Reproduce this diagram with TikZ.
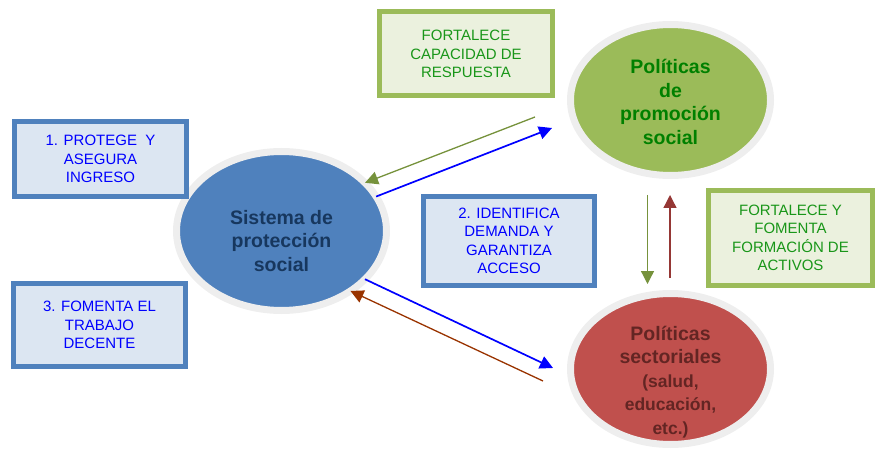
\documentclass[tikz,border=0pt]{standalone}
\usepackage{fontspec}
\setmainfont{Liberation Sans}
\usetikzlibrary{shapes.geometric,arrows.meta}

\definecolor{bluefill}{RGB}{79,129,189}
\definecolor{boxblue}{RGB}{220,230,242}
\definecolor{greenfill}{RGB}{155,187,89}
\definecolor{boxgreen}{RGB}{235,241,222}
\definecolor{redfill}{RGB}{192,80,77}
\definecolor{ringgray}{RGB}{238,238,238}
\definecolor{navytext}{RGB}{23,55,94}
\definecolor{darkgreen}{RGB}{0,128,0}
\definecolor{greentext}{RGB}{25,150,25}
\definecolor{darkred}{RGB}{99,37,35}
\definecolor{arrowgreen}{RGB}{118,146,60}
\definecolor{arrowbrown}{RGB}{153,51,0}
\definecolor{arrowred}{RGB}{149,55,53}
\newcommand\smallrow{\fontsize{17.5}{21}\selectfont}

\begin{document}
\begin{tikzpicture}[x=1pt,y=-1pt,
      blob/.style={ellipse, draw=ringgray, line width=7pt, outer sep=0pt,
                   minimum width=200pt, minimum height=151pt},
      btext/.style={align=center, font=\bfseries\fontsize{19.5}{23.5}\selectfont},
      bluebox/.style={draw=bluefill, fill=boxblue, line width=5pt, align=center,
                      text=blue, inner sep=0pt, font=\fontsize{15}{18.5}\selectfont},
      greenbox/.style={bluebox, draw=greenfill, fill=boxgreen, text=greentext},
      marrow/.style={line width=1.3pt, -{Triangle[length=13pt,width=13pt]}}]
    \useasboundingbox (0,0) rectangle (875,449);

    % draw the three ellipses
    \node[blob, fill=bluefill, minimum width=210pt, minimum height=159pt] (sist) at (281.5,231) {};
    \node[blob, fill=greenfill] (promo) at (670.5,100) {};
    \node[blob, fill=redfill] (sect) at (670.5,369) {};

    \node[btext, text=navytext] (sisttxt) at (281.5,241) {Sistema de\\protección\\social};
    \node[btext, text=darkgreen] (promotxt) at (670.5,102) {Políticas\\de\\promoción\\social};
    \node[btext, text=darkred] (secttxt) at (670.5,382)
         {Políticas\\sectoriales\\\smallrow(salud,\\\smallrow educación,\\\smallrow etc.)};

    % boxes
    \node[bluebox, minimum width=172pt, minimum height=75pt] (protege) at (100.5,159)
         {1. PROTEGE~~Y\\ASEGURA\\INGRESO};
    \node[bluebox, minimum width=172pt, minimum height=83pt] (fomenta) at (99.5,325)
         {3. FOMENTA EL\\TRABAJO\\DECENTE};
    \node[bluebox, minimum width=171pt, minimum height=89pt] (identifica) at (509,241)
         {2. IDENTIFICA\\DEMANDA Y\\GARANTIZA\\ACCESO};
    \node[greenbox, minimum width=173pt, minimum height=84pt] (capacidad) at (466,54)
         {FORTALECE\\CAPACIDAD DE\\RESPUESTA};
    \node[greenbox, minimum width=164pt, minimum height=95pt] (activos) at (790.5,238)
         {FORTALECE Y\\FOMENTA\\FORMACIÓN DE\\ACTIVOS};

    % free ends of the arrows
    \coordinate (gtail) at (535,117);
    \coordinate (btip) at (552,128);
    \coordinate (lowtip) at (553,368);
    \coordinate (rtail) at (543,381);
    \coordinate (downtail) at (647.5,195);
    \coordinate (downtip) at (647.5,284);
    \coordinate (uptail) at (670,278);
    \coordinate (uptip) at (670,195);

    % arrows
    \draw[marrow, arrowgreen] (gtail) -- (sist.30.5);
    \draw[marrow, blue, line width=1.7pt] (sist.20.6) -- (btip);
    \draw[marrow, blue, line width=1.7pt] (sist.-30) -- (lowtip);
    \draw[marrow, arrowbrown] (rtail) -- (sist.-41);
    \draw[marrow, arrowgreen] (downtail) -- (downtip);
    \draw[marrow, arrowred] (uptail) -- (uptip);
\end{tikzpicture}
\end{document}
